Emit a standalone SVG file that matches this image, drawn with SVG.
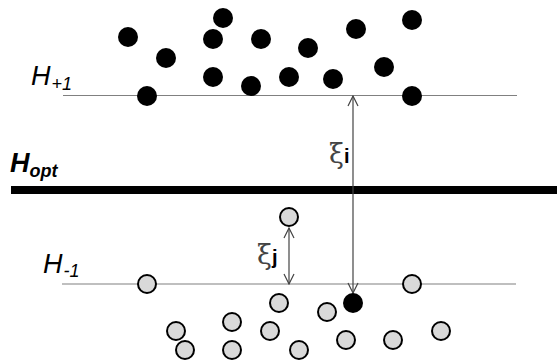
<svg xmlns="http://www.w3.org/2000/svg" width="557" height="363" viewBox="0 0 557 363">
<style>
.pos{fill:#000}
.neg{fill:#d9d9d9;stroke:#000;stroke-width:2}
.hl{stroke:#808080;stroke-width:1.2;fill:none}
.arr{stroke:#444;stroke-width:1.2;fill:none}
.lbl{font-family:"Liberation Sans",Arial,sans-serif;font-style:italic;fill:#000;font-size:27px}
.sm{font-size:18px}
.xi{font-family:"DejaVu Serif","Liberation Serif",serif;fill:#444;font-size:27px}
.sub{font-family:"Liberation Sans",Arial,sans-serif;font-weight:bold;fill:#000;font-size:20px}
</style>
<defs>
<marker id="ah" viewBox="0 0 12 12" refX="11" refY="6" markerWidth="12" markerHeight="12" markerUnits="userSpaceOnUse" orient="auto-start-reverse">
<path d="M1,1 L11,6 L1,11" fill="none" stroke="#444" stroke-width="1.2"/>
</marker>
</defs>
<g id="lines">
<line class="hl" x1="63" y1="95.5" x2="517" y2="95.5"/>
<line class="hl" x1="62" y1="284" x2="516" y2="284"/>
<rect x="11" y="186" width="546" height="8" fill="#000"/>
</g>
<g id="labels">
<text class="lbl" x="31" y="85">H<tspan class="sm" dx="1" dy="5">+1</tspan></text>
<text class="lbl" x="10" y="172" font-weight="bold">H<tspan class="sm" dy="5">opt</tspan></text>
<text class="lbl" x="43" y="273">H<tspan class="sm" dx="1" dy="4">-1</tspan></text>
</g>
<g id="connectors">
<line class="arr" x1="353" y1="96" x2="353" y2="293" marker-start="url(#ah)" marker-end="url(#ah)"/>
<line class="arr" x1="289" y1="228" x2="289" y2="284" marker-start="url(#ah)" marker-end="url(#ah)"/>
<text class="xi" x="329" y="163">ξ<tspan class="sub">i</tspan></text>
<text class="xi" x="257" y="264">ξ<tspan class="sub">j</tspan></text>
</g>
<g id="positives">
<circle class="pos" cx="128" cy="37" r="10"/>
<circle class="pos" cx="166" cy="58" r="10"/>
<circle class="pos" cx="223" cy="18" r="10"/>
<circle class="pos" cx="213" cy="39" r="10"/>
<circle class="pos" cx="261" cy="39" r="10"/>
<circle class="pos" cx="213" cy="77" r="10"/>
<circle class="pos" cx="251" cy="86" r="10"/>
<circle class="pos" cx="147" cy="96" r="10"/>
<circle class="pos" cx="308" cy="48" r="10"/>
<circle class="pos" cx="289" cy="77" r="10"/>
<circle class="pos" cx="333" cy="79" r="10"/>
<circle class="pos" cx="356" cy="29" r="10"/>
<circle class="pos" cx="412" cy="20" r="10"/>
<circle class="pos" cx="384" cy="67" r="10"/>
<circle class="pos" cx="412" cy="96" r="10"/>
<circle class="pos" cx="353" cy="303" r="10"/>
</g>
<g id="negatives">
<circle class="neg" cx="289" cy="217" r="9"/>
<circle class="neg" cx="147" cy="284" r="9"/>
<circle class="neg" cx="412" cy="284" r="9"/>
<circle class="neg" cx="176" cy="331" r="9"/>
<circle class="neg" cx="185" cy="350" r="9"/>
<circle class="neg" cx="232" cy="322" r="9"/>
<circle class="neg" cx="232" cy="350" r="9"/>
<circle class="neg" cx="270" cy="331" r="9"/>
<circle class="neg" cx="279" cy="303" r="9"/>
<circle class="neg" cx="327" cy="312" r="9"/>
<circle class="neg" cx="299" cy="350" r="9"/>
<circle class="neg" cx="346" cy="340" r="9"/>
<circle class="neg" cx="393" cy="340" r="9"/>
<circle class="neg" cx="441" cy="331" r="9"/>
</g>
</svg>
